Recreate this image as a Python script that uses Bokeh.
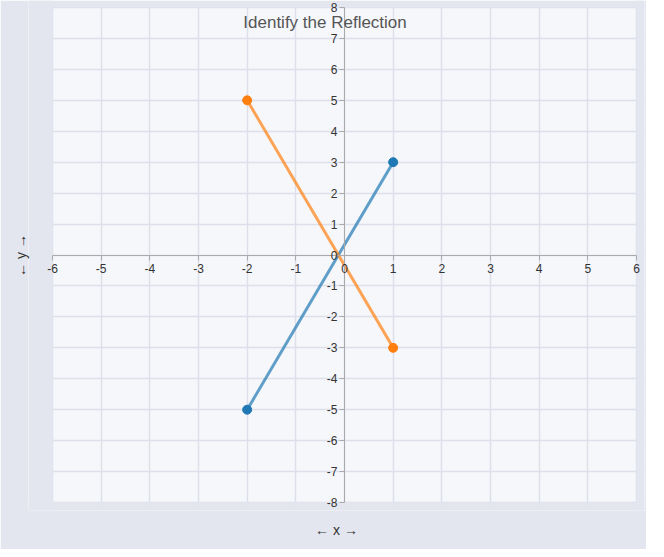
from bokeh.plotting import figure
from bokeh.models import (LinearAxis, Label, Title, FixedTicker, Range1d, LabelSet,
                          ColumnDataSource, BoxAnnotation)
from bokeh.core.properties import value
from bokeh.embed import file_html
from bokeh.resources import INLINE

# data
x_ticks = list(range(-6, 7))
y_ticks = list(range(-8, 9))
blue_x = [-2, 1]
blue_y = [-5, 3]
orange_x = [-2, 1]
orange_y = [5, -3]
title_text = "Identify the Reflection"
x_label = "\u2190 x \u2192"
y_label = "\u2190 y \u2192"

FONT = "Liberation Sans"
BORDER = "#e4e6ef"
PLOTBG = "#f6f7fa"

xmin, xmax = x_ticks[0], x_ticks[-1]
ymin, ymax = y_ticks[0], y_ticks[-1]
ux = 584 / (xmax - xmin)
uy = 495 / (ymax - ymin)

p = figure(width=646, height=549, output_backend="svg", toolbar_location=None,
           x_range=Range1d(xmin - 24 / ux, xmax + 8 / ux),
           y_range=Range1d(ymin - 8 / uy, ymax + 7 / uy),
           x_axis_location=None, y_axis_location=None,
           min_border_left=28, min_border_right=2, min_border_top=0, min_border_bottom=39)
p.border_fill_color = BORDER
p.background_fill_color = BORDER
p.background_fill_alpha = 0
p.outline_line_color = None

# plotting square background
p.add_layout(BoxAnnotation(left=xmin, right=xmax, bottom=ymin, top=ymax,
                           fill_color=PLOTBG, fill_alpha=1, line_color=None, level="image"))

p.xgrid.ticker = FixedTicker(ticks=x_ticks)
p.ygrid.ticker = FixedTicker(ticks=y_ticks)
p.grid.grid_line_color = "#dde0ea"
p.grid.grid_line_width = 1.5

# hide grid lines running into the padding outside the plotting square
for kw in (dict(right=xmin), dict(left=xmax), dict(top=ymin), dict(bottom=ymax)):
    p.add_layout(BoxAnnotation(fill_color=BORDER, fill_alpha=1, line_color=None,
                               level="underlay", **kw))

xa = LinearAxis(fixed_location=0, ticker=FixedTicker(ticks=x_ticks), bounds=(xmin, xmax))
ya = LinearAxis(fixed_location=0, ticker=FixedTicker(ticks=y_ticks), bounds=(ymin, ymax))
for ax in (xa, ya):
    ax.axis_line_color = "#aaaaaa"
    ax.major_tick_line_color = "#aaaaaa"
    ax.minor_tick_line_color = None
    ax.major_tick_out = 5
    ax.major_tick_in = 0
    ax.major_label_text_alpha = 0
    ax.major_label_text_font_size = "1px"
p.add_layout(xa, "below")
p.add_layout(ya, "left")

# tick labels (hyphen minus)
xsrc = ColumnDataSource(dict(x=x_ticks, y=[0] * len(x_ticks), t=[str(v) for v in x_ticks]))
ysrc = ColumnDataSource(dict(x=[0] * len(y_ticks), y=y_ticks, t=[str(v) for v in y_ticks]))
p.add_layout(LabelSet(x="x", y="y", text="t", source=xsrc, y_offset=-13,
                      text_align="center", text_baseline="middle", text_font=value(FONT),
                      text_font_size=value("12px"), text_color="#333333"))
p.add_layout(LabelSet(x="x", y="y", text="t", source=ysrc, x_offset=-7,
                      text_align="right", text_baseline="middle", text_font=value(FONT),
                      text_font_size=value("12px"), text_color="#333333"))

p.line(blue_x, blue_y, line_color="#1f77b4", line_alpha=0.7, line_width=3)
p.line(orange_x, orange_y, line_color="#ff7f0e", line_alpha=0.7, line_width=3)
p.scatter(blue_x, blue_y, size=9, fill_color="#1f77b4", line_color="#1f77b4")
p.scatter(orange_x, orange_y, size=9, fill_color="#ff7f0e", line_color="#ff7f0e")

p.add_layout(Label(x=-0.4, y=7.5, text=title_text, text_align="center", text_baseline="middle",
                   text_font=FONT, text_font_size="17px", text_color="#555555"))

p.add_layout(Title(text=x_label, align="center", text_font=FONT, text_font_size="14px",
                   text_color="#333333", text_font_style="normal", standoff=18), "below")
p.add_layout(Title(text=y_label, align="center", text_font=FONT, text_font_size="14px",
                   text_color="#333333", text_font_style="normal", standoff=0), "left")

open("out.html", "w").write(file_html(p, INLINE))
